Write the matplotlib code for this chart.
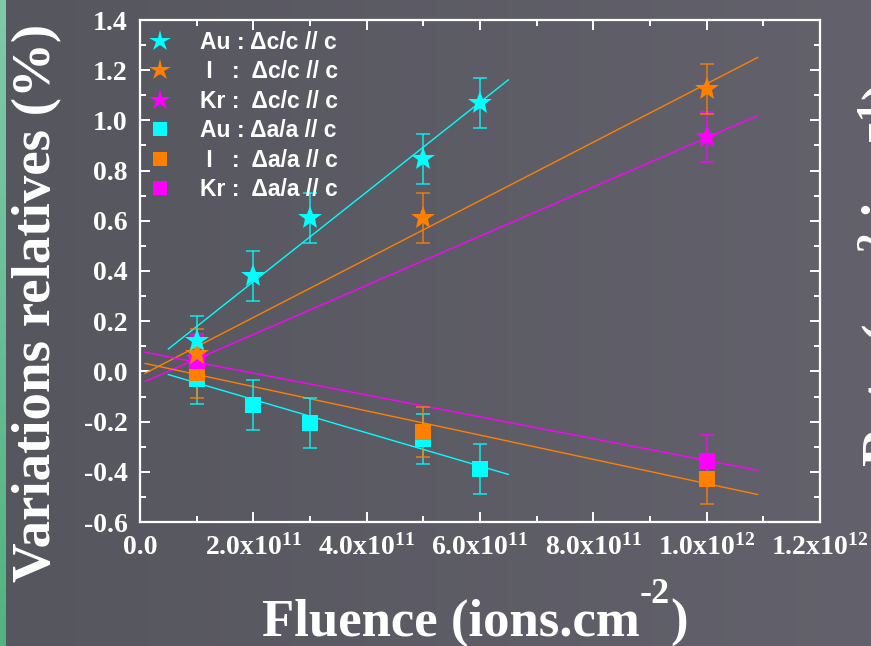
import numpy as np
import matplotlib
matplotlib.use("Agg")
import matplotlib.pyplot as plt
from matplotlib.lines import Line2D
from matplotlib.colors import LinearSegmentedColormap
from matplotlib.transforms import offset_copy

# ---- data -------------------------------------------------------------
# fluences in ions/cm^2, relative variations in %
fluence_au = [1e11, 2e11, 3e11, 5e11, 6e11]
fluence_i = [1e11, 5e11, 1e12]
fluence_kr = [1e11, 1e12]

dc_au = [0.12, 0.38, 0.61, 0.845, 1.07]
dc_i = [0.07, 0.61, 1.125]
dc_kr = [0.05, 0.935]

da_au = [-0.03, -0.135, -0.205, -0.27, -0.39]
da_i = [-0.005, -0.24, -0.43]
da_kr = [0.04, -0.355]

error_pct = 0.1

# linear fits: slope (% per 1e11 ions/cm^2), intercept (%), fluence range
fit_dc_au = (0.1787, 0.0, 0.5e11, 6.5e11)
fit_dc_i = (0.1164, -0.018, 0.09e11, 10.9e11)
fit_dc_kr = (0.098, -0.049, 0.09e11, 10.9e11)
fit_da_au = (-0.0663, 0.0205, 0.5e11, 6.5e11)
fit_da_i = (-0.0483, 0.036, 0.09e11, 10.9e11)
fit_da_kr = (-0.0435, 0.080, 0.09e11, 10.9e11)

x_ticks = [0, 2e11, 4e11, 6e11, 8e11, 1e12, 1.2e12]
x_tick_labels = ["0.0", "2.0x10$^{\\mathregular{11}}$", "4.0x10$^{\\mathregular{11}}$",
                 "6.0x10$^{\\mathregular{11}}$", "8.0x10$^{\\mathregular{11}}$",
                 "1.0x10$^{\\mathregular{12}}$", "1.2x10$^{\\mathregular{12}}$"]
y_ticks = [-0.6, -0.4, -0.2, 0.0, 0.2, 0.4, 0.6, 0.8, 1.0, 1.2, 1.4]
y_tick_labels = ["-0.6", "-0.4", "-0.2", "0.0", "0.2", "0.4", "0.6",
                 "0.8", "1.0", "1.2", "1.4"]

legend_labels = ["Au : \u0394c/c // c", " I   :  \u0394c/c // c", "Kr :  \u0394c/c // c",
                 "Au : \u0394a/a // c", " I   :  \u0394a/a // c", "Kr :  \u0394a/a // c"]

CYAN, ORANGE, MAGENTA = "#00ffff", "#ff8000", "#ff00ff"
SERIF = "Liberation Serif"
SANS = "Liberation Sans"

plt.rcParams["mathtext.default"] = "regular"

fig = plt.figure(figsize=(8.71, 6.46), dpi=100)

# background with a soft horizontal shading and a green strip on the left
bg = fig.add_axes([0, 0, 1, 1], zorder=-10)
grad = np.linspace(0, 1, 256)[None, :]
bg_cmap = LinearSegmentedColormap.from_list("bg", ["#56565f", "#63626c"])
bg.imshow(grad, aspect="auto", cmap=bg_cmap, extent=[0, 1, 0, 1])
bg.set_xlim(0, 1); bg.set_ylim(0, 1)
bg.axis("off")
strip = fig.add_axes([0, 0, 5 / 871, 1], zorder=-9)
strip_cmap = LinearSegmentedColormap.from_list("strip", ["#52b282", "#80caa8"])
strip.imshow(np.linspace(0, 1, 256)[:, None], aspect="auto", cmap=strip_cmap,
             origin="lower", extent=[0, 1, 0, 1])
strip.axis("off")

ax = fig.add_axes([140 / 871, 124 / 646, 680 / 871, 502 / 646])
ax.set_facecolor("none")


def draw_fit(fit, color):
    slope, intercept, x0, x1 = fit
    xs = np.array([x0, x1])
    ax.plot(xs, intercept + slope * xs / 1e11, color=color, lw=1.0, zorder=2)


for fit, col in [(fit_dc_au, CYAN), (fit_dc_i, ORANGE), (fit_dc_kr, MAGENTA),
                 (fit_da_au, CYAN), (fit_da_i, ORANGE), (fit_da_kr, MAGENTA)]:
    draw_fit(fit, col)


def draw_points(x, y, color, marker, ms):
    ax.errorbar(x, y, yerr=error_pct, fmt="none", ecolor=color, elinewidth=1.2,
                capsize=5, capthick=1.2, alpha=0.8, zorder=3)
    ax.plot(x, y, linestyle="none", marker=marker, color=color, ms=ms,
            markeredgewidth=0, zorder=4)


draw_points(fluence_au, da_au, CYAN, "s", 11)
draw_points(fluence_i, da_i, ORANGE, "s", 11)
draw_points(fluence_kr, da_kr, MAGENTA, "s", 11)
draw_points(fluence_kr, dc_kr, MAGENTA, "*", 18)
draw_points(fluence_i, dc_i, ORANGE, "*", 18)
draw_points(fluence_au, dc_au, CYAN, "*", 18)

ax.set_xlim(0, 1.2e12)
ax.set_ylim(-0.6, 1.4)
ax.set_xticks(x_ticks)
ax.set_xticklabels(x_tick_labels)
ax.set_xticks(np.arange(1e11, 1.2e12, 2e11), minor=True)
ax.set_yticks(y_ticks)
ax.set_yticklabels(y_tick_labels)
ax.set_yticks(np.arange(-0.5, 1.4, 0.2), minor=True)

for sp in ax.spines.values():
    sp.set_color("white")
    sp.set_linewidth(1.6)
ax.tick_params(which="both", direction="in", color="white", width=1.4,
               top=True, right=True)
ax.tick_params(which="major", length=7)
ax.tick_params(which="minor", length=4)
ax.tick_params(axis="x", which="major", pad=9)
ax.tick_params(axis="y", which="major", pad=9)
for lab in ax.get_xticklabels() + ax.get_yticklabels():
    lab.set_fontfamily(SERIF)
    lab.set_fontweight("bold")
    lab.set_fontsize(20)
    lab.set_color("white")

# x-axis title built from pieces so the exponent keeps a plain hyphen
renderer = fig.canvas.get_renderer()
title_style = dict(family=SERIF, weight="bold", color="white")
t1 = fig.text(262 / 871, 1 - 636 / 646, "Fluence (ions.cm", fontsize=38,
              ha="left", va="baseline", **title_style)
w1 = t1.get_window_extent(renderer).width
t2 = fig.text(262 / 871, 1 - 636 / 646, "-2",
              transform=offset_copy(fig.transFigure, fig=fig, x=w1 * 72 / fig.dpi,
                                    y=24, units="points"),
              fontsize=26, ha="left", va="baseline", **title_style)
w2 = t2.get_window_extent(renderer).width
fig.text(262 / 871, 1 - 636 / 646, ")",
         transform=offset_copy(fig.transFigure, fig=fig, x=(w1 + w2) * 72 / fig.dpi,
                               y=0, units="points"),
         fontsize=38, ha="left", va="baseline", **title_style)

fig.text(37 / 871, 1 - 303 / 646, "Variations relatives (%)", family=SERIF,
         weight="bold", fontsize=39.5, color="white", ha="center", va="center",
         rotation=90)
# right-hand axis title, running off the edge of the figure
fig.text(857 / 871, 1 - 275 / 646, "Rate (cm$^{\\mathregular{2}}$.ion$^{\\mathregular{-1}}$)",
         family=SERIF, weight="bold", fontsize=40, color="white", ha="left",
         va="center", rotation=90)

handles = [
    Line2D([], [], ls="none", marker="*", color=CYAN, ms=16, mew=0),
    Line2D([], [], ls="none", marker="*", color=ORANGE, ms=16, mew=0),
    Line2D([], [], ls="none", marker="*", color=MAGENTA, ms=16, mew=0),
    Line2D([], [], ls="none", marker="s", color=CYAN, ms=10, mew=0),
    Line2D([], [], ls="none", marker="s", color=ORANGE, ms=10, mew=0),
    Line2D([], [], ls="none", marker="s", color=MAGENTA, ms=10, mew=0),
]
leg = ax.legend(handles, legend_labels, loc="upper left",
                bbox_to_anchor=(6.5 / 680, 1 - 11 / 502), frameon=False,
                prop={"family": SANS, "weight": "bold", "size": 16.5},
                labelcolor="white", labelspacing=0.28, handlelength=1.2,
                handletextpad=1.15, borderaxespad=0, borderpad=0)

fig.savefig("out.png", dpi=100)
